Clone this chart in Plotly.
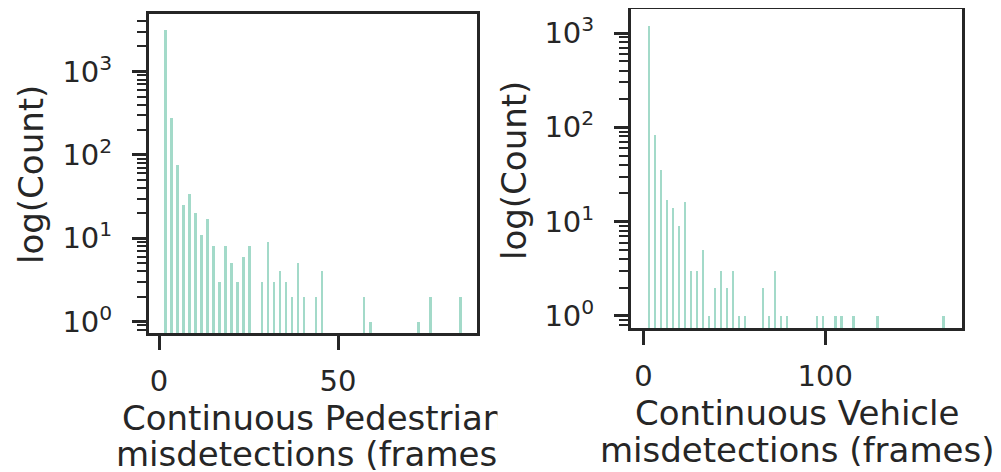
import numpy as np
import plotly.graph_objects as go

# ---------------- data ----------------
N_BINS = 50
PED_MIN, PED_MAX = 1.0, 85.0
VEH_MIN, VEH_MAX = 1.5, 166.5

ped_counts = [3150, 280, 76, 25, 34, 20, 11, 17, 8, 3,
              8, 5, 3, 6, 8, 0, 3, 9, 3, 4,
              3, 2, 5, 2, 0, 2, 4, 0, 0, 0,
              0, 0, 0, 2, 1, 0, 0, 0, 0, 0,
              0, 0, 1, 0, 2, 0, 0, 0, 0, 2]

veh_counts = [1200, 83, 35, 17, 14, 9, 16, 3, 3, 5,
              1, 2, 3, 2, 3, 1, 1, 0, 0, 2,
              1, 3, 1, 1, 0, 0, 0, 0, 1, 1,
              0, 1, 1, 0, 1, 0, 0, 0, 1, 0,
              0, 0, 0, 0, 0, 0, 0, 0, 0, 1]

ped_xticks = [0, 50]
veh_xticks = [0, 100]
y_tickvals = [1, 10, 100, 1000]
y_ticktext = ["10<sup>0</sup>", "10<sup>1</sup>", "10<sup>2</sup>", "10<sup>3</sup>"]

ped_title = ["Continuous Pedestrian", "misdetections (frames)"]
veh_title = ["Continuous Vehicle", "misdetections (frames)"]
y_title = "log(Count)"

# ---------------- styling ----------------
PAGE_MARGIN = 8          # default body margin of the html page
W, H = 1001 - PAGE_MARGIN, 472 - PAGE_MARGIN
BAR_COLOR = "#a3dac9"
DARK = "#262626"
FONT = "DejaVu Sans"


def bins(lo, hi, n):
    edges = np.linspace(lo, hi, n + 1)
    return (edges[:-1] + edges[1:]) / 2, edges[1] - edges[0]


ped_x, ped_w = bins(PED_MIN, PED_MAX, N_BINS)
veh_x, veh_w = bins(VEH_MIN, VEH_MAX, N_BINS)


def nz(vals):
    return [v if v > 0 else None for v in vals]


fig = go.Figure()
fig.add_trace(go.Bar(x=ped_x, y=nz(ped_counts), width=ped_w * 0.45,
                     marker=dict(color=BAR_COLOR, line=dict(width=0)),
                     xaxis="x", yaxis="y", showlegend=False))
fig.add_trace(go.Bar(x=veh_x, y=nz(veh_counts), width=veh_w * 0.45,
                     marker=dict(color=BAR_COLOR, line=dict(width=0)),
                     xaxis="x2", yaxis="y2", showlegend=False))

minor_vals = [m * 10 ** k for k in range(-1, 4) for m in range(2, 10)]


def px_x(p):
    return (p - PAGE_MARGIN) / W


def px_y(p):
    return 1 - (p - PAGE_MARGIN) / H


common_x = dict(showline=True, linewidth=3, linecolor=DARK, mirror=True,
                ticks="outside", ticklen=14, tickwidth=3, tickcolor=DARK,
                showgrid=False, zeroline=False, automargin=False,
                tickfont=dict(family=FONT, size=29, color=DARK),
                ticklabelstandoff=6)
common_y = dict(type="log", showline=True, linewidth=3, linecolor=DARK, mirror=True,
                ticks="outside", ticklen=14, tickwidth=3, tickcolor=DARK,
                showgrid=False, zeroline=False, tickmode="array", automargin=False,
                tickvals=y_tickvals, ticktext=y_ticktext,
                tickfont=dict(family=FONT, size=29, color=DARK),
                ticklabelstandoff=14,
                minor=dict(ticks="outside", ticklen=9, tickwidth=2, tickcolor=DARK,
                           tickmode="array", tickvals=minor_vals, showgrid=False))

fig.update_layout(
    width=W, height=H,
    margin=dict(l=0, r=0, t=0, b=0),
    paper_bgcolor="white", plot_bgcolor="white",
    bargap=0,
    font=dict(family=FONT, color=DARK),
    xaxis=dict(domain=[px_x(149), px_x(477)], range=[-2.8, 88.8],
               tickmode="array", tickvals=ped_xticks, anchor="y", **common_x),
    yaxis=dict(domain=[px_y(333), px_y(14)], range=[-0.136, 3.69], anchor="x", **common_y),
    xaxis2=dict(domain=[px_x(631), px_x(962)], range=[-6.8, 175.2],
                tickmode="array", tickvals=veh_xticks, anchor="y2", **common_x),
    yaxis2=dict(domain=[px_y(328), px_y(9)], range=[-0.128, 3.255], anchor="x2", **common_y),
)

LBL = 34
ann = []
# y titles
ann.append(dict(text=y_title, x=px_x(31), y=px_y(175), xref="paper", yref="paper",
                textangle=-90, showarrow=False, xanchor="center", yanchor="middle",
                font=dict(family=FONT, size=LBL, color=DARK)))
ann.append(dict(text=y_title, x=px_x(514), y=px_y(171), xref="paper", yref="paper",
                textangle=-90, showarrow=False, xanchor="center", yanchor="middle",
                font=dict(family=FONT, size=LBL, color=DARK)))
# x titles (one annotation per line)
for line, yc in zip(ped_title, [418, 454]):
    ann.append(dict(text=line, x=px_x(313), y=px_y(yc), xref="paper", yref="paper",
                    showarrow=False, xanchor="center", yanchor="middle",
                    font=dict(family=FONT, size=LBL, color=DARK)))
# cover: the left title is cut off at the right in the reference
ann.append(dict(text=" ", x=px_x(497), y=px_y(392), xref="paper", yref="paper",
                showarrow=False, xanchor="left", yanchor="top",
                width=80, height=80, bgcolor="white",
                font=dict(family=FONT, size=10, color="white")))
for line, yc in zip(veh_title, [413, 450]):
    ann.append(dict(text=line, x=px_x(797), y=px_y(yc), xref="paper", yref="paper",
                    showarrow=False, xanchor="center", yanchor="middle",
                    font=dict(family=FONT, size=LBL, color=DARK)))
fig.update_layout(annotations=ann)

fig.write_html("out.html")
